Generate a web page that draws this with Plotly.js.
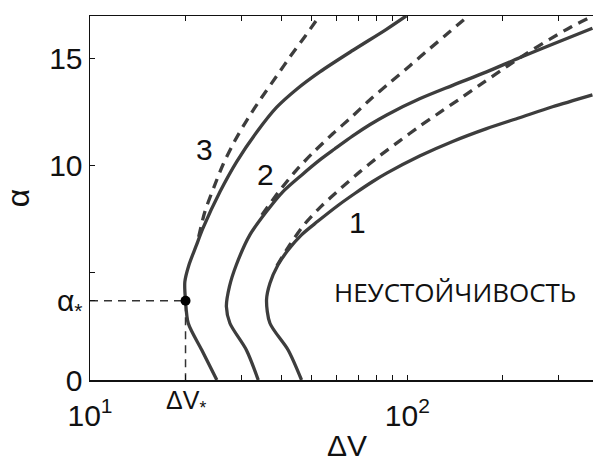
<!DOCTYPE html>
<html><head><meta charset="utf-8">
<script src="https://cdn.plot.ly/plotly-3.0.1.min.js"></script>
<style>html,body{margin:0;padding:0;background:#fff}#c{width:593px;height:462px}</style>
</head><body><div id="c"></div>
<script>
// Curve 3 (solid)
const c3x = [25.1, 22.5, 20.4, 20.0, 19.9, 20.5, 21.6, 22.7, 25.7, 29.0, 33.5, 38.7, 44.7, 53.0, 67.4, 85.9, 99.3];
const c3y = [0, 1.40, 2.65, 3.7, 4.58, 5.37, 6.26, 7.09, 8.80, 10.20, 11.57, 12.73, 13.57, 14.39, 15.40, 16.38, 17.01];
// Curve 2 (solid)
const c2x = [33.9, 31.1, 27.6, 26.9, 27.5, 28.9, 31.9, 36.3, 40.5, 46.5, 53.0, 59.0, 67.3, 76.1, 86.1, 109.3, 138.9, 177.7, 225.7, 286.7, 383];
const c2y = [0, 1.40, 2.65, 3.43, 4.36, 5.37, 6.78, 7.94, 8.79, 9.58, 10.28, 10.79, 11.40, 11.92, 12.38, 13.13, 13.76, 14.39, 15.05, 15.68, 16.43];
// Curve 1 (solid)
const c1x = [46.4, 42.1, 36.9, 36.0, 36.9, 39.1, 42.1, 46.4, 52.2, 60.3, 68.3, 77.8, 86.1, 109.3, 138.9, 177.7, 225.7, 286.7, 383];
const c1y = [0, 1.40, 2.65, 3.74, 4.52, 5.37, 6.07, 6.78, 7.41, 8.14, 8.71, 9.27, 9.66, 10.46, 11.14, 11.74, 12.25, 12.76, 13.32];
// Dashed asymptotes
const d3x = [22.0, 23.0, 24.6, 26.3, 28.6, 31.4, 34.7, 38.6, 42.9, 47.7, 52.6];
const d3y = [6.68, 7.85, 9.02, 10.09, 11.17, 12.20, 13.18, 14.16, 15.14, 16.07, 16.96];
const d2x = [34.8, 39.1, 44.5, 50.7, 58.2, 66.8, 76.1, 88.0, 101.7, 117.5, 135.9, 154.8];
const d2y = [7.71, 8.74, 9.77, 10.65, 11.50, 12.29, 13.08, 13.88, 14.67, 15.47, 16.26, 16.98];
const d1x = [38.8, 42.6, 47.5, 53.7, 61.7, 70.8, 81.8, 94.6, 109.3, 127.3, 149.3, 173.9, 203.9, 239.1, 280.5, 328.9, 383];
const d1y = [5.33, 6.31, 7.29, 8.13, 8.95, 9.72, 10.47, 11.17, 11.85, 12.52, 13.22, 13.90, 14.60, 15.28, 15.91, 16.50, 16.99];
// Critical point
const dvStar = 20;
const aStar = 3.7;
// Ticks
const xTickVals = [10, 20, 30, 40, 50, 60, 70, 80, 90, 100, 200, 300];
const xTickText = ['10<sup>1</sup>', '', '', '', '', '', '', '', '', '10<sup>2</sup>', '', ''];
const yTickVals = [0, aStar, 5, 10, 15];
const yTickText = ['0', 'α<sub>*</sub>', '', '10', '15'];
// Labels
const curveLabels = ['1', '2', '3'];
const labelX = [69.8, 35.6, 23.0];
const labelY = [7.34, 9.58, 10.75];
const regionText = 'НЕУСТОЙЧИВОСТЬ';
const regionX = 141.7, regionY = 4.13;
const xTitle = 'ΔV';

const col = '#3d3d3d';
const solid = {color: col, width: 3.3, shape: 'spline', smoothing: 0.8};
const dashed = {color: col, width: 3.3, dash: '10px,7px', shape: 'spline', smoothing: 0.8};
const traces = [
  {x: d3x, y: d3y, mode: 'lines', line: dashed},
  {x: d2x, y: d2y, mode: 'lines', line: dashed},
  {x: d1x, y: d1y, mode: 'lines', line: dashed},
  {x: c3x, y: c3y, mode: 'lines', line: solid},
  {x: c2x, y: c2y, mode: 'lines', line: solid},
  {x: c1x, y: c1y, mode: 'lines', line: solid},
  {x: [10, dvStar, dvStar], y: [aStar, aStar, 0], mode: 'lines', line: {color: '#333', width: 1.5, dash: '8px,6px'}},
  {x: [dvStar], y: [aStar], mode: 'markers', marker: {color: '#000', size: 10}}
];
traces.forEach(t => { t.hoverinfo = 'skip'; t.showlegend = false; });

const ann = curveLabels.map((s, i) => ({
  x: Math.log10(labelX[i]), y: labelY[i], xref: 'x', yref: 'y', text: s, showarrow: false,
  font: {family: 'Liberation Sans, Arial, sans-serif', size: 30, color: '#111'}
}));
ann.push({x: Math.log10(regionX), y: regionY, xref: 'x', yref: 'y', text: regionText, showarrow: false,
  font: {family: 'Open Sans, sans-serif', size: 26, color: '#111'}});
ann.push({x: Math.log10(dvStar), y: 0, xref: 'x', yref: 'y', yanchor: 'top', yshift: -4, text: 'ΔV<sub>*</sub>', showarrow: false,
  font: {family: 'Liberation Sans, Arial, sans-serif', size: 25, color: '#111'}});
ann.push({x: 0.51, y: 0, xref: 'paper', yref: 'paper', yanchor: 'top', yshift: -47, text: xTitle, showarrow: false,
  font: {family: 'Liberation Sans, Arial, sans-serif', size: 30, color: '#111'}});

const layout = {
  width: 593, height: 462,
  margin: {l: 90, r: 0, t: 16, b: 82},
  paper_bgcolor: '#fff', plot_bgcolor: '#fff',
  showlegend: false,
  font: {family: 'Liberation Sans, Arial, sans-serif', size: 30, color: '#111'},
  xaxis: {
    type: 'log', range: [1, 2.585], showgrid: false, zeroline: false,
    showline: true, linecolor: '#111', linewidth: 1.5, mirror: 'ticks',
    ticks: 'inside', ticklen: 5, tickwidth: 1, tickcolor: '#111',
    tickmode: 'array', tickvals: xTickVals, ticktext: xTickText,
    tickfont: {size: 30}, ticklabelstandoff: 8
  },
  yaxis: {
    range: [0, 17], showgrid: false, zeroline: false,
    showline: true, linecolor: '#111', linewidth: 1.5,
    ticks: 'inside', ticklen: 5, tickwidth: 1, tickcolor: '#111',
    tickmode: 'array', tickvals: yTickVals, ticktext: yTickText,
    tickfont: {size: 30},
    title: {text: 'α', font: {size: 32}, standoff: 12}
  },
  annotations: ann
};
Plotly.newPlot('c', traces, layout, {displayModeBar: false, staticPlot: true});
</script>
</body></html>
